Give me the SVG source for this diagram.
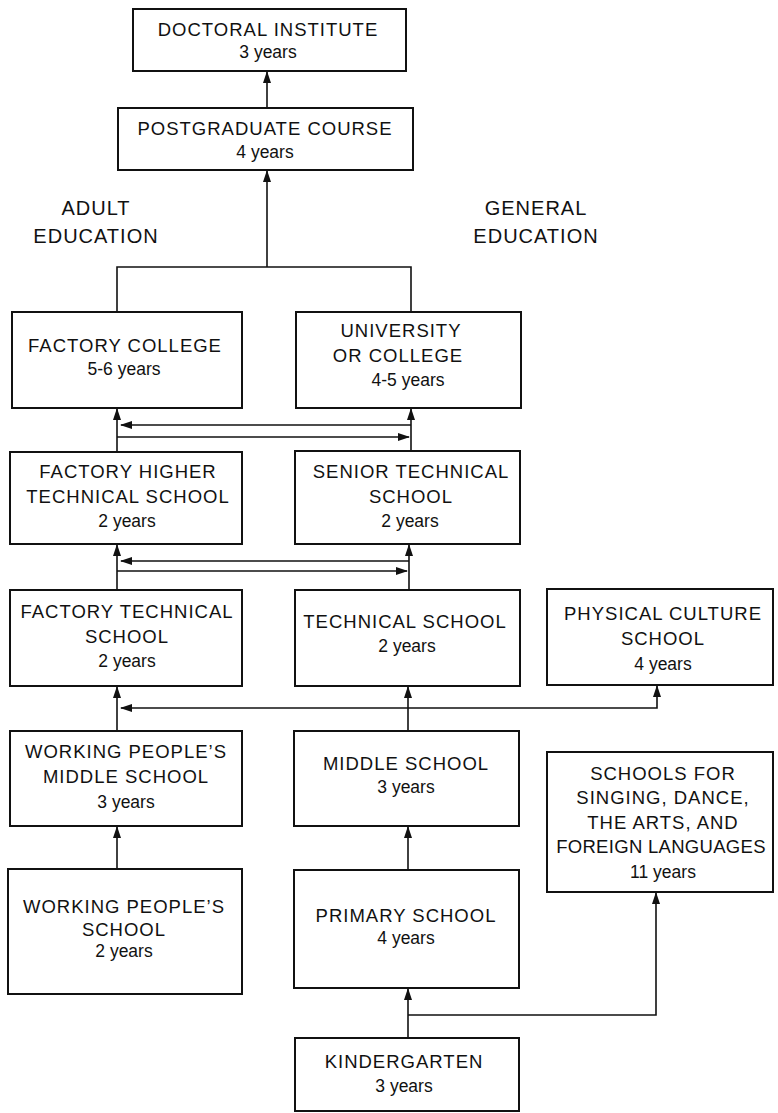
<svg xmlns="http://www.w3.org/2000/svg" width="778" height="1113" viewBox="0 0 778 1113">
<style>
.box{fill:#fff;stroke:#111;stroke-width:2}
.t{font-family:"Liberation Sans",Arial,sans-serif;font-size:18.5px;letter-spacing:1px;fill:#111;text-anchor:middle}
.y{font-family:"Liberation Sans",Arial,sans-serif;font-size:17.5px;fill:#111;text-anchor:middle}
.lab{font-family:"Liberation Sans",Arial,sans-serif;font-size:20px;letter-spacing:1px;fill:#111;text-anchor:middle}
.c{fill:none;stroke:#111;stroke-width:1.6}
</style>
<defs>
<marker id="ah" markerUnits="userSpaceOnUse" markerWidth="12" markerHeight="8" refX="11" refY="4" orient="auto">
<path d="M0,0 L12,4 L0,8 z" fill="#111"/>
</marker>
</defs>
<rect width="778" height="1113" fill="#fff"/>

<g id="connectors">
<line class="c" x1="267" y1="108" x2="267" y2="72" marker-end="url(#ah)"/>
<line class="c" x1="267" y1="267" x2="267" y2="171" marker-end="url(#ah)"/>
<polyline class="c" points="117,312 117,267 411,267 411,312"/>
<line class="c" x1="117" y1="452" x2="117" y2="409" marker-end="url(#ah)"/>
<line class="c" x1="411" y1="452" x2="411" y2="409" marker-end="url(#ah)"/>
<line class="c" x1="411" y1="425" x2="121" y2="425" marker-end="url(#ah)"/>
<line class="c" x1="117" y1="437" x2="409" y2="437" marker-end="url(#ah)"/>
<line class="c" x1="117" y1="590" x2="117" y2="545" marker-end="url(#ah)"/>
<line class="c" x1="409" y1="590" x2="409" y2="545" marker-end="url(#ah)"/>
<line class="c" x1="409" y1="561" x2="121" y2="561" marker-end="url(#ah)"/>
<line class="c" x1="117" y1="571" x2="407" y2="571" marker-end="url(#ah)"/>
<line class="c" x1="117" y1="731" x2="117" y2="687" marker-end="url(#ah)"/>
<line class="c" x1="408" y1="731" x2="408" y2="687" marker-end="url(#ah)"/>
<line class="c" x1="408" y1="708" x2="121" y2="708" marker-end="url(#ah)"/>
<polyline class="c" points="408,708 657,708 657,686" marker-end="url(#ah)"/>
<line class="c" x1="117" y1="869" x2="117" y2="827" marker-end="url(#ah)"/>
<line class="c" x1="408" y1="870" x2="408" y2="827" marker-end="url(#ah)"/>
<line class="c" x1="408" y1="1038" x2="408" y2="989" marker-end="url(#ah)"/>
<polyline class="c" points="408,1015 656,1015 656,893" marker-end="url(#ah)"/>
</g>

<g id="labels">
<text class="lab" x="96" y="215">ADULT</text>
<text class="lab" x="96" y="243">EDUCATION</text>
<text class="lab" x="536" y="215">GENERAL</text>
<text class="lab" x="536" y="243">EDUCATION</text>
</g>

<g id="doctoral">
<rect class="box" x="133" y="9" width="273" height="62"/>
<text class="t" x="268" y="36">DOCTORAL INSTITUTE</text>
<text class="y" x="268" y="58">3 years</text>
</g>
<g id="postgraduate">
<rect class="box" x="118" y="108" width="295" height="62"/>
<text class="t" x="265" y="135">POSTGRADUATE COURSE</text>
<text class="y" x="265" y="158">4 years</text>
</g>
<g id="factory-college">
<rect class="box" x="12" y="312" width="230" height="96"/>
<text class="t" x="125" y="352">FACTORY COLLEGE</text>
<text class="y" x="124" y="375">5-6 years</text>
</g>
<g id="university">
<rect class="box" x="296" y="312" width="225" height="96"/>
<text class="t" x="401" y="337">UNIVERSITY</text>
<text class="t" x="398" y="362">OR COLLEGE</text>
<text class="y" x="408" y="386">4-5 years</text>
</g>
<g id="factory-higher">
<rect class="box" x="10" y="452" width="232" height="92"/>
<text class="t" x="128" y="478">FACTORY HIGHER</text>
<text class="t" x="128" y="503">TECHNICAL SCHOOL</text>
<text class="y" x="127" y="527">2 years</text>
</g>
<g id="senior-technical">
<rect class="box" x="295" y="451" width="225" height="93"/>
<text class="t" x="411" y="478">SENIOR TECHNICAL</text>
<text class="t" x="411" y="503">SCHOOL</text>
<text class="y" x="410" y="527">2 years</text>
</g>
<g id="factory-technical">
<rect class="box" x="10" y="590" width="232" height="96"/>
<text class="t" x="127" y="618">FACTORY TECHNICAL</text>
<text class="t" x="127" y="643">SCHOOL</text>
<text class="y" x="127" y="667">2 years</text>
</g>
<g id="technical-school">
<rect class="box" x="295" y="590" width="225" height="96"/>
<text class="t" x="405" y="628">TECHNICAL SCHOOL</text>
<text class="y" x="407" y="652">2 years</text>
</g>
<g id="physical-culture">
<rect class="box" x="547" y="589" width="226" height="96"/>
<text class="t" x="663" y="620">PHYSICAL CULTURE</text>
<text class="t" x="663" y="645">SCHOOL</text>
<text class="y" x="663" y="670">4 years</text>
</g>
<g id="working-middle">
<rect class="box" x="10" y="731" width="232" height="95"/>
<text class="t" x="126" y="758">WORKING PEOPLE’S</text>
<text class="t" x="126" y="783">MIDDLE SCHOOL</text>
<text class="y" x="126" y="808">3 years</text>
</g>
<g id="middle-school">
<rect class="box" x="294" y="731" width="225" height="95"/>
<text class="t" x="406" y="770">MIDDLE SCHOOL</text>
<text class="y" x="406" y="793">3 years</text>
</g>
<g id="arts-schools">
<rect class="box" x="547" y="752" width="226" height="140"/>
<text class="t" x="663" y="780">SCHOOLS FOR</text>
<text class="t" x="663" y="804">SINGING, DANCE,</text>
<text class="t" x="663" y="829">THE ARTS, AND</text>
<text class="t" x="661" y="853" style="letter-spacing:0.3px">FOREIGN LANGUAGES</text>
<text class="y" x="663" y="878">11 years</text>
</g>
<g id="working-school">
<rect class="box" x="8" y="869" width="234" height="125"/>
<text class="t" x="124" y="913">WORKING PEOPLE’S</text>
<text class="t" x="124" y="936">SCHOOL</text>
<text class="y" x="124" y="957">2 years</text>
</g>
<g id="primary-school">
<rect class="box" x="294" y="870" width="225" height="118"/>
<text class="t" x="406" y="922">PRIMARY SCHOOL</text>
<text class="y" x="406" y="944">4 years</text>
</g>
<g id="kindergarten">
<rect class="box" x="295" y="1038" width="224" height="73"/>
<text class="t" x="404" y="1068">KINDERGARTEN</text>
<text class="y" x="404" y="1092">3 years</text>
</g>
</svg>
